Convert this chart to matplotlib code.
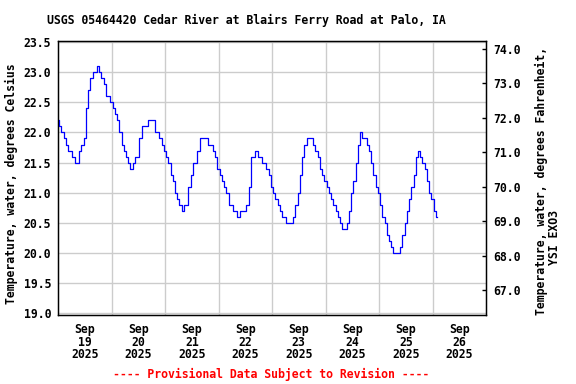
import matplotlib
matplotlib.use('Agg')
import matplotlib.pyplot as plt
import numpy as np
import pandas as pd

# hourly water temperature (deg C)
sep19 = [22.2, 22.1, 22.0, 21.9, 21.8, 21.7, 21.7, 21.6, 21.5, 21.5, 21.7, 21.8,
         21.9, 22.4, 22.7, 22.9, 23.0, 23.0, 23.1, 23.0, 22.9, 22.8, 22.6, 22.6]
sep20 = [22.5, 22.4, 22.3, 22.2, 22.0, 21.8, 21.7, 21.6, 21.5, 21.4, 21.5, 21.6,
         21.6, 21.9, 22.1, 22.1, 22.1, 22.2, 22.2, 22.2, 22.0, 22.0, 21.9, 21.8]
sep21 = [21.7, 21.6, 21.5, 21.3, 21.2, 21.0, 20.9, 20.8, 20.7, 20.8, 20.8, 21.1,
         21.3, 21.5, 21.5, 21.7, 21.9, 21.9, 21.9, 21.9, 21.8, 21.8, 21.7, 21.6]
sep22 = [21.4, 21.3, 21.2, 21.1, 21.0, 20.8, 20.8, 20.7, 20.7, 20.6, 20.7, 20.7,
         20.7, 20.8, 21.1, 21.6, 21.6, 21.7, 21.6, 21.6, 21.5, 21.5, 21.4, 21.3]
sep23 = [21.1, 21.0, 20.9, 20.8, 20.7, 20.6, 20.6, 20.5, 20.5, 20.5, 20.6, 20.8,
         21.0, 21.3, 21.6, 21.8, 21.9, 21.9, 21.9, 21.8, 21.7, 21.6, 21.4, 21.3]
sep24 = [21.2, 21.1, 21.0, 20.9, 20.8, 20.7, 20.6, 20.5, 20.4, 20.4, 20.5, 20.7,
         21.0, 21.2, 21.5, 21.8, 22.0, 21.9, 21.9, 21.8, 21.7, 21.5, 21.3, 21.1]
sep25 = [21.0, 20.8, 20.6, 20.5, 20.3, 20.2, 20.1, 20.0, 20.0, 20.0, 20.1, 20.3,
         20.5, 20.7, 20.9, 21.1, 21.3, 21.6, 21.7, 21.6, 21.5, 21.4, 21.2, 21.0]
sep26 = [20.9, 20.7, 20.6]

temps = sep19 + sep20 + sep21 + sep22 + sep23 + sep24 + sep25 + sep26
times = pd.date_range('2025-09-19 00:00', periods=len(temps), freq='h')

day_labels = ['19', '20', '21', '22', '23', '24', '25', '26']
month_label = 'Sep'
year_label = '2025'
c_ticks = [19.0, 19.5, 20.0, 20.5, 21.0, 21.5, 22.0, 22.5, 23.0, 23.5]
f_ticks = [67.0, 68.0, 69.0, 70.0, 71.0, 72.0, 73.0, 74.0]

plt.rcParams['font.family'] = 'DejaVu Sans Mono'
plt.rcParams['font.weight'] = 'bold'
FS = 8.3

W, H = 576, 384
fig = plt.figure(figsize=(W / 100, H / 100), dpi=100)
ax = fig.add_axes([58 / W, 1 - 314.7 / H, (486 - 58) / W, (314.7 - 41) / H])

ax.plot(times, temps, color='#0000ff', lw=0.9, drawstyle='steps-mid', zorder=3)

# PLOT AREA / AXES
start = pd.Timestamp('2025-09-19')
ax.set_xlim(start, pd.Timestamp('2025-09-27'))
ax.set_ylim(18.977, 23.517)

noon = [start + pd.Timedelta(days=i, hours=12) for i in range(len(day_labels))]
midnight = [start + pd.Timedelta(days=i) for i in range(1, 8)]
ax.set_xticks(noon)
ax.set_xticklabels([f'{month_label}\n{d}\n{year_label}' for d in day_labels],
                   fontsize=FS, fontweight='bold', linespacing=0.95)
ax.set_xticks(midnight, minor=True)
ax.tick_params(axis='x', which='both', length=0, pad=6)

ax.set_yticks(c_ticks)
ax.set_yticklabels([f'{v:.1f}' for v in c_ticks], fontsize=FS, fontweight='bold')
ax.tick_params(axis='y', length=0, pad=5)

ax.grid(which='minor', axis='x', color='#cccccc', lw=1)
ax.grid(which='major', axis='y', color='#cccccc', lw=1)
ax.set_axisbelow(True)
for s in ax.spines.values():
    s.set_linewidth(1.0)

ax2 = ax.twinx()
ax2.set_ylim(66.29, 74.23)
ax2.set_yticks(f_ticks)
ax2.set_yticklabels([f'{v:.1f}' for v in f_ticks], fontsize=FS, fontweight='bold')
ax2.tick_params(axis='y', direction='in', length=3, width=1, pad=5)

# TEXTS
fig.text(246 / W, 1 - 20 / H, 'USGS 05464420 Cedar River at Blairs Ferry Road at Palo, IA',
         ha='center', va='center', fontsize=FS, fontweight='bold')
fig.text(11 / W, 1 - 183.5 / H, 'Temperature, water, degrees Celsius',
         rotation=90, ha='center', va='center', fontsize=FS, fontweight='bold')
fig.text(541 / W, 1 - 180.5 / H, 'Temperature, water, degrees Fahrenheit,',
         rotation=90, ha='center', va='center', fontsize=FS, fontweight='bold')
fig.text(554 / W, 1 - 237.5 / H, 'YSI EXO3',
         rotation=90, ha='center', va='center', fontsize=FS, fontweight='bold')
fig.text(271 / W, 1 - 374 / H, '---- Provisional Data Subject to Revision ----',
         ha='center', va='center', fontsize=FS, fontweight='bold', color='#ff0000')

fig.savefig('out.png', dpi=100)
